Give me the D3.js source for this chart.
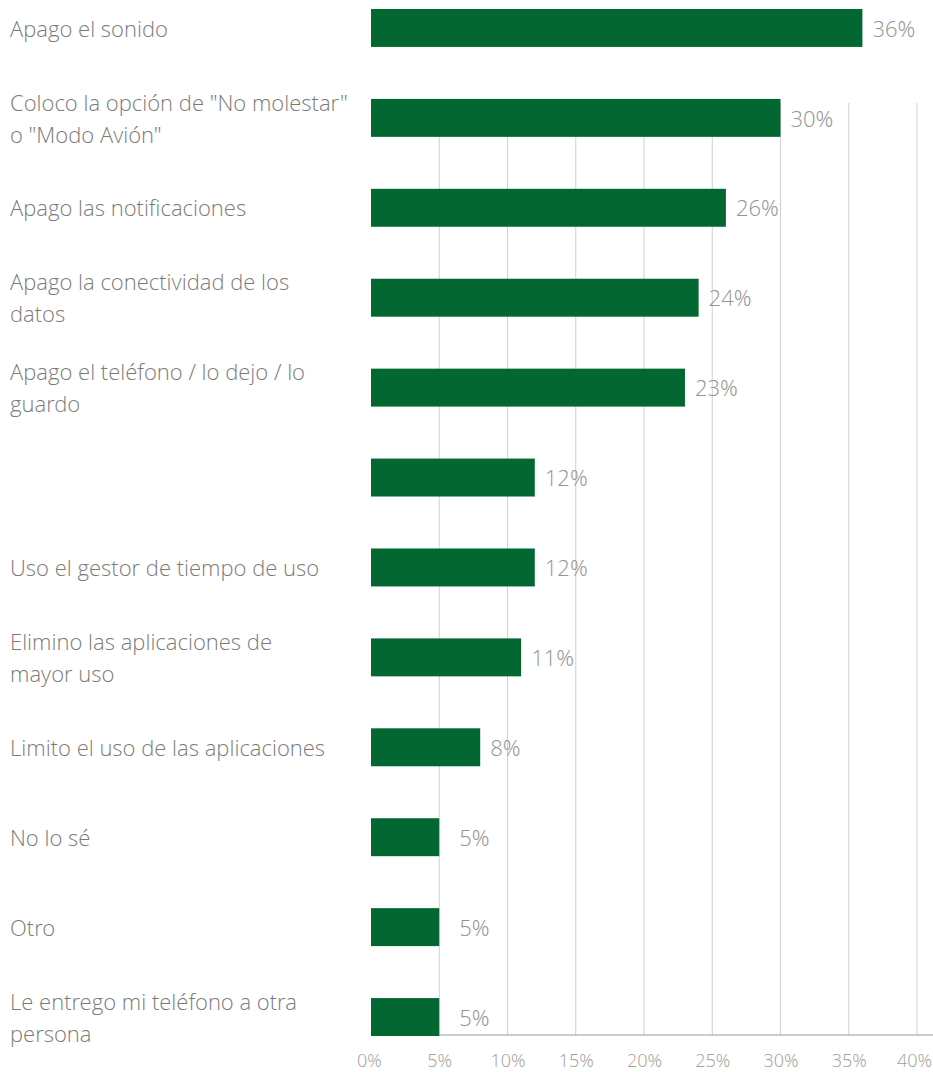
<!DOCTYPE html>
<html>
<head>
<meta charset="utf-8">
<script src="https://cdn.jsdelivr.net/npm/d3@7"></script>
<style>
  html, body { margin: 0; padding: 0; background: #fff; }
  svg { display: block; font-family: "Open Sans Light", "Open Sans", sans-serif; font-weight: 300; }
</style>
</head>
<body>
<svg id="chart" width="933" height="1072"></svg>
<script>
// Acciones para desconectarse del teléfono (% de respuestas); "\n" marks a line break
const categories = [
  "Apago el sonido",
  "Coloco la opción de \"No molestar\"\no \"Modo Avión\"",
  "Apago las notificaciones",
  "Apago la conectividad de los\ndatos",
  "Apago el teléfono / lo dejo / lo\nguardo",
  "",
  "Uso el gestor de tiempo de uso",
  "Elimino las aplicaciones de\nmayor uso",
  "Limito el uso de las aplicaciones",
  "No lo sé",
  "Otro",
  "Le entrego mi teléfono a otra\npersona"
];
const values = [36, 30, 26, 24, 23, 12, 12, 11, 8, 5, 5, 5];
const tickValues = [0, 5, 10, 15, 20, 25, 30, 35, 40];

const svg = d3.select("#chart");
const green = "#036731";

const x = d3.scaleLinear().domain([0, 40]).range([371, 917]);
const y = d3.scaleBand()
  .domain(d3.range(categories.length))
  .range([-17, 1062])
  .paddingInner(0.578)
  .paddingOuter(0.289);

const gridTop = 103, axisY = 1035;

// vertical gridlines
svg.append("g")
  .selectAll("line")
  .data(tickValues.slice(1))
  .join("line")
  .attr("x1", d => x(d)).attr("x2", d => x(d))
  .attr("y1", gridTop).attr("y2", axisY)
  .attr("stroke", "#d0d0d0").attr("stroke-width", 1);

// bottom axis
const xAxis = d3.axisBottom(x)
  .tickValues(tickValues)
  .tickFormat(d => d + "%")
  .tickSize(0)
  .tickPadding(19);
const gx = svg.append("g").attr("transform", `translate(0,${axisY})`).call(xAxis);
gx.select(".domain").attr("stroke", "#999").attr("stroke-width", 1.2)
  .attr("d", `M${x(0)},0H933`);
gx.selectAll("text")
  .attr("fill", "#a0a0a0")
  .attr("dx", d => d === 0 ? -2 : (d === 40 ? -3 : 0))
  .style("font-size", "18px")
  .style("font-weight", 300)
  .style("font-family", "'Open Sans Light', 'Open Sans', sans-serif");

// bars
svg.append("g")
  .selectAll("rect")
  .data(values)
  .join("rect")
  .attr("x", x(0))
  .attr("y", (d, i) => y(i))
  .attr("width", d => x(d) - x(0))
  .attr("height", y.bandwidth())
  .attr("fill", green);

// value labels
svg.append("g")
  .selectAll("text")
  .data(values)
  .join("text")
  .attr("x", d => x(d) + (d <= 5 ? 20 : 10))
  .attr("y", (d, i) => y(i) + y.bandwidth() / 2 + 1)
  .attr("dy", "0.35em")
  .attr("fill", "#949494")
  .style("font-size", "22px")
  .text(d => d + "%");

// category labels
const lineHeight = 32;
svg.append("g")
  .selectAll("text")
  .data(categories)
  .join("text")
  .attr("fill", "#7a7a7a")
  .style("font-size", "22px")
  .each(function(d, i) {
    const text = d3.select(this);
    const lines = d ? d.split("\n") : [];
    const cy = y(i) + y.bandwidth() / 2 + 1;
    const startY = cy - (lines.length - 1) * lineHeight / 2;
    lines.forEach((l, k) => {
      text.append("tspan")
        .attr("x", 10)
        .attr("y", startY + k * lineHeight)
        .attr("dy", "0.35em")
        .text(l);
    });
  });
</script>
</body>
</html>
